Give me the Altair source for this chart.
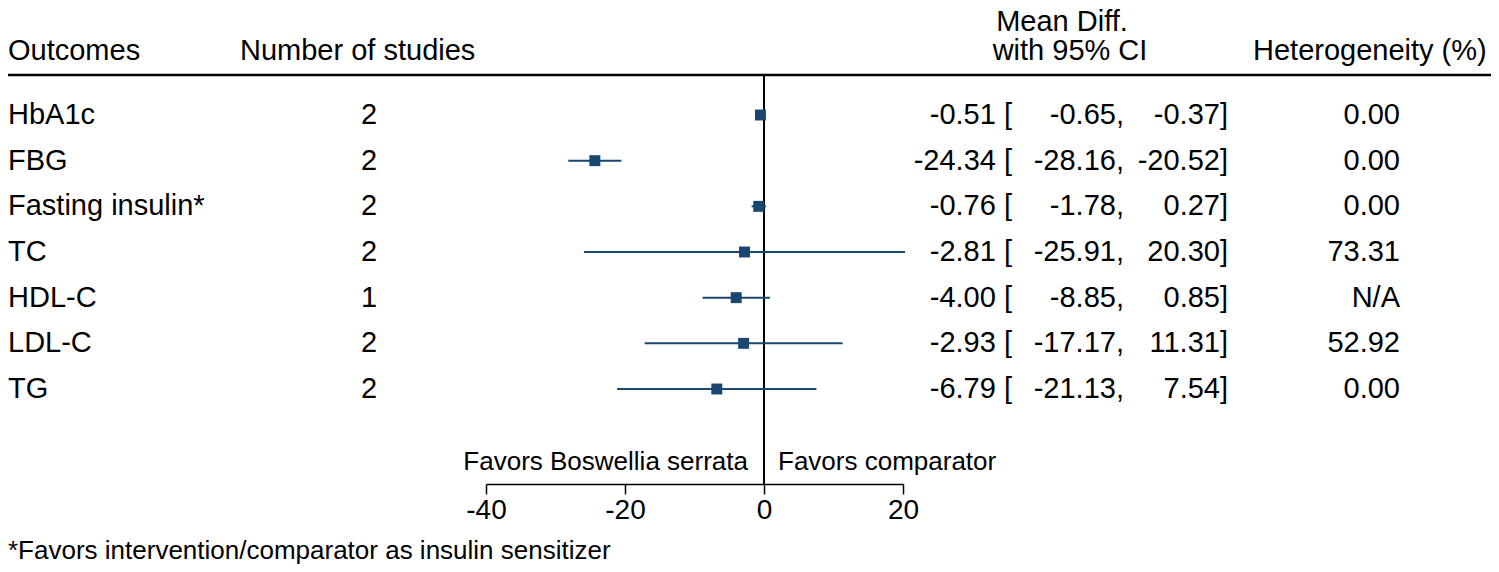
import altair as alt
import pandas as pd

outcomes = ["HbA1c", "FBG", "Fasting insulin*", "TC", "HDL-C", "LDL-C", "TG"]
n_studies = [2, 2, 2, 2, 1, 2, 2]
mean_diff = [-0.51, -24.34, -0.76, -2.81, -4.00, -2.93, -6.79]
ci_low = [-0.65, -28.16, -1.78, -25.91, -8.85, -17.17, -21.13]
ci_high = [-0.37, -20.52, 0.27, 20.30, 0.85, 11.31, 7.54]
heterogeneity = ["0.00", "0.00", "0.00", "73.31", "N/A", "52.92", "0.00"]
x_ticks = [-40, -20, 0, 20]

df = pd.DataFrame({
    "row": list(range(1, len(outcomes) + 1)),
    "outcome": outcomes,
    "n": [str(v) for v in n_studies],
    "md": mean_diff,
    "lo": ci_low,
    "hi": ci_high,
    "md_txt": [f"{v:.2f} [" for v in mean_diff],
    "lo_txt": [f"{v:.2f}," for v in ci_low],
    "hi_txt": [f"{v:.2f}]" for v in ci_high],
    "het": heterogeneity,
})

FONT = "Liberation Sans"
FS = 29
FS_SMALL = 26
NAVY = "#1a476f"

x_scale = alt.Scale(domain=[-40, 20], range=[478, 895], nice=False, zero=False)
x_axis = alt.Axis(values=x_ticks, title=None, grid=False, domainColor="black",
                  domainWidth=1.5, tickColor="black", tickWidth=1.5, tickSize=10,
                  labelFontSize=28, labelFont=FONT, labelColor="black",
                  labelPadding=2, labelFlush=False, labelExpr="'' + datum.value")
y_scale = alt.Scale(domain=[1, 7], range=[107, 381], nice=False, zero=False)

base = alt.Chart(df)

ci = base.mark_rule(color=NAVY, strokeWidth=2).encode(
    x=alt.X("lo:Q", scale=x_scale, axis=x_axis),
    x2="hi:Q",
    y=alt.Y("row:Q", scale=y_scale, axis=None),
)
pts = base.mark_square(color=NAVY, opacity=1, size=120).encode(
    x=alt.X("md:Q", scale=x_scale, axis=x_axis),
    y=alt.Y("row:Q", scale=y_scale, axis=None),
)
zero = alt.Chart(pd.DataFrame({"z": [0]})).mark_rule(color="black", strokeWidth=2).encode(
    x=alt.X("z:Q", scale=x_scale, axis=x_axis),
    y=alt.value(67),
    y2=alt.value(476),
)
header_line = alt.Chart(pd.DataFrame({"z": [0]})).mark_rule(color="black", strokeWidth=2.5).encode(
    x=alt.value(0), x2=alt.value(1483), y=alt.value(67),
)


def col_text(field, xpos, align):
    return base.mark_text(font=FONT, fontSize=FS, color="black", align=align,
                          baseline="middle").encode(
        x=alt.value(xpos),
        y=alt.Y("row:Q", scale=y_scale, axis=None),
        text=f"{field}:N",
    )


cols = [
    col_text("outcome", 0, "left"),
    col_text("n", 361, "center"),
    col_text("md_txt", 1004, "right"),
    col_text("lo_txt", 1116, "right"),
    col_text("hi_txt", 1220, "right"),
    col_text("het", 1392, "right"),
]

labels_df = pd.DataFrame({
    "label": ["Outcomes", "Number of studies", "Mean Diff.", "with 95% CI",
              "Heterogeneity (%)", "Favors Boswellia serrata", "Favors comparator",
              "*Favors intervention/comparator as insulin sensitizer"],
})


def static_text(label, xpos, ypos, align, size):
    return alt.Chart(labels_df).transform_filter(
        alt.datum.label == label
    ).mark_text(font=FONT, fontSize=size, color="black", align=align,
                baseline="alphabetic").encode(
        x=alt.value(xpos), y=alt.value(ypos), text="label:N"
    )


statics = [
    static_text("Outcomes", 0, 52, "left", FS),
    static_text("Number of studies", 232, 52, "left", FS),
    static_text("Mean Diff.", 1054, 23, "center", FS),
    static_text("with 95% CI", 1062, 52, "center", FS),
    static_text("Heterogeneity (%)", 1245, 52, "left", FS),
    static_text("Favors Boswellia serrata", 740, 462, "right", FS_SMALL),
    static_text("Favors comparator", 770, 462, "left", FS_SMALL),
    static_text("*Favors intervention/comparator as insulin sensitizer", 0, 551, "left", FS_SMALL),
]

chart = alt.layer(header_line, zero, ci, pts, *cols, *statics).properties(
    width=1483, height=476,
    background="white",
    autosize=alt.AutoSizeParams(type="none"),
    padding={"left": 0, "top": 0, "right": 0, "bottom": 80},
).configure_view(strokeWidth=0, stroke=None)

chart.save("out.html", embed_options={"renderer": "svg", "actions": False})
